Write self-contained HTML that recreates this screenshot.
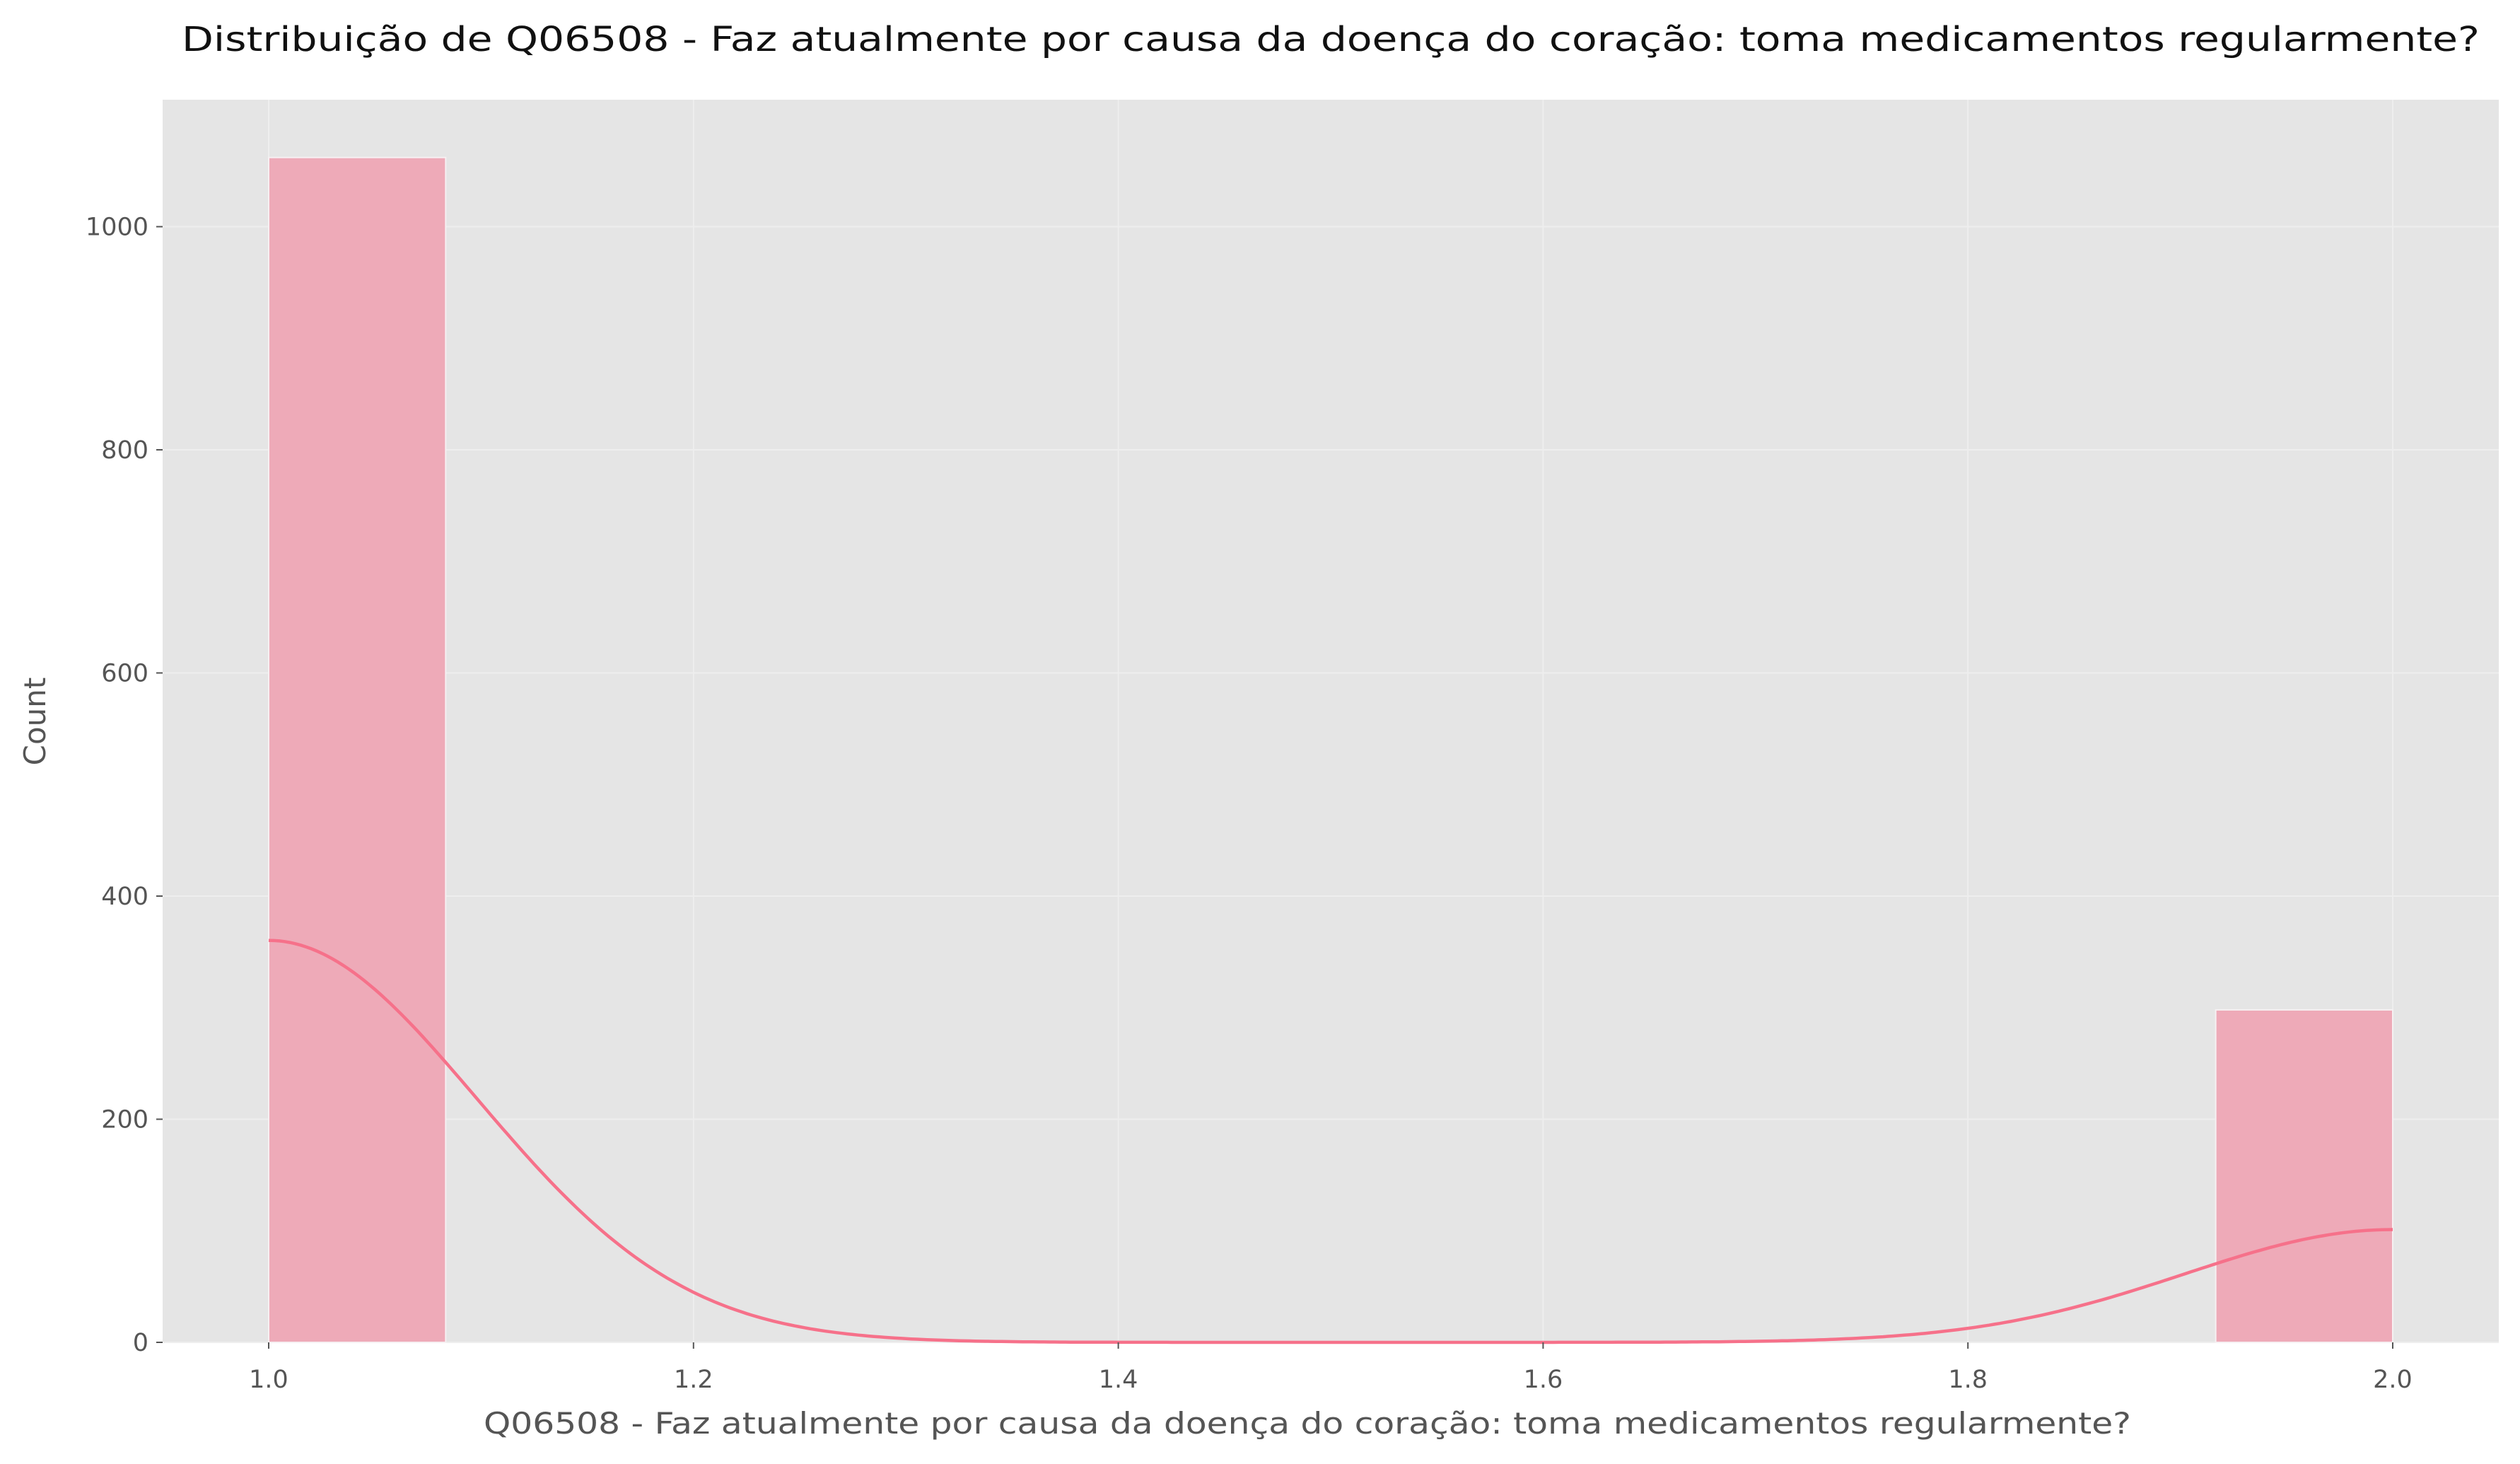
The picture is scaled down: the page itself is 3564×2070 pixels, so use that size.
<!DOCTYPE html>
<html><head><meta charset="utf-8"><style>
html,body{margin:0;padding:0;background:#fff;}
svg text{font-family:"DejaVu Sans","Liberation Sans",sans-serif;}
</style></head><body>
<svg id="chart" width="3564" height="2065" viewBox="0 0 3564 2065" xmlns="http://www.w3.org/2000/svg">
<rect x="0" y="0" width="3564" height="2065" fill="#ffffff"/>
<text x="1882" y="72" font-size="48" text-anchor="middle" fill="#111" textLength="3250" lengthAdjust="spacingAndGlyphs">Distribuição de Q06508 - Faz atualmente por causa da doença do coração: toma medicamentos regularmente?</text>
<rect x="230" y="141" width="3304" height="1757" fill="#e5e5e5"/>
<g id="grid"></g>
<g id="bars"></g>
<path id="kde" fill="none" stroke="#f6718a" stroke-width="4.5"/>
<g id="xticks"></g>
<g id="yticks"></g>
<text x="1849" y="2027" font-size="42" text-anchor="middle" fill="#555" textLength="2330" lengthAdjust="spacingAndGlyphs">Q06508 - Faz atualmente por causa da doença do coração: toma medicamentos regularmente?</text>
<text x="64" y="1020" font-size="42" text-anchor="middle" fill="#555" transform="rotate(-90 64 1020)">Count</text>
</svg>
<script>
const binCounts = [1062, 0, 0, 0, 0, 0, 0, 0, 0, 0, 0, 298];
const binStart = 1.0;
const binEnd = 2.0;
const xTickValues = [1.0, 1.2, 1.4, 1.6, 1.8, 2.0];
const xTickLabels = ["1.0", "1.2", "1.4", "1.6", "1.8", "2.0"];
const yTickValues = [0, 200, 400, 600, 800, 1000];
const yTickLabels = ["0", "200", "400", "600", "800", "1000"];
const kdeBandwidth = 0.098;

const PL = 230, PR = 3534, PT = 141, PB = 1898;
const X0 = 380, X1 = 3384;
function xs(v) { return X0 + (v - 1.0) * (X1 - X0) / 1.0; }
function ys(v) { return PB - v * 1.5775; }
const NS = 'http://www.w3.org/2000/svg';
const grid = document.getElementById('grid');
const xt = document.getElementById('xticks');
const yt = document.getElementById('yticks');
xTickValues.forEach((v, i) => {
  const l = document.createElementNS(NS, 'line');
  
  
  l.setAttribute('x1', xs(v)); l.setAttribute('x2', xs(v));
  l.setAttribute('y1', PT); l.setAttribute('y2', PB);
  l.setAttribute('stroke', '#eeeeee'); l.setAttribute('stroke-width', '2');
  grid.appendChild(l);
  const t = document.createElementNS(NS, 'line');
  
  
  t.setAttribute('x1', xs(v)); t.setAttribute('x2', xs(v));
  t.setAttribute('y1', PB); t.setAttribute('y2', PB + 9);
  t.setAttribute('stroke', '#555'); t.setAttribute('stroke-width', '2');
  xt.appendChild(t);
  const tx = document.createElementNS(NS, 'text');
  
  
  tx.setAttribute('x', xs(v)); tx.setAttribute('y', PB + 64);
  tx.setAttribute('font-size', '35'); tx.setAttribute('text-anchor', 'middle'); tx.setAttribute('fill', '#555');
  tx.textContent = xTickLabels[i];
  xt.appendChild(tx);
});
yTickValues.forEach((v, i) => {
  const l = document.createElementNS(NS, 'line');
  
  
  l.setAttribute('x1', PL); l.setAttribute('x2', PR);
  l.setAttribute('y1', ys(v)); l.setAttribute('y2', ys(v));
  l.setAttribute('stroke', '#eeeeee'); l.setAttribute('stroke-width', '2');
  grid.appendChild(l);
  const t = document.createElementNS(NS, 'line');
  
  
  t.setAttribute('x1', PL - 9); t.setAttribute('x2', PL);
  t.setAttribute('y1', ys(v)); t.setAttribute('y2', ys(v));
  t.setAttribute('stroke', '#555'); t.setAttribute('stroke-width', '2');
  yt.appendChild(t);
  const tx = document.createElementNS(NS, 'text');
  
  
  tx.setAttribute('x', PL - 20); tx.setAttribute('y', ys(v) + 12);
  tx.setAttribute('font-size', '35'); tx.setAttribute('text-anchor', 'end'); tx.setAttribute('fill', '#555');
  tx.textContent = yTickLabels[i];
  yt.appendChild(tx);
});
const bars = document.getElementById('bars');
const bw = (binEnd - binStart) / binCounts.length;
binCounts.forEach((c, i) => {
  if (c <= 0) return;
  const r = document.createElementNS(NS, 'rect');
  
  
  const a = xs(binStart + i * bw), b = xs(binStart + (i + 1) * bw);
  r.setAttribute('x', a); r.setAttribute('width', b - a);
  r.setAttribute('y', ys(c)); r.setAttribute('height', ys(0) - ys(c));
  r.setAttribute('fill', '#eeaab8'); r.setAttribute('stroke', '#f6f0f2'); r.setAttribute('stroke-width', '2');
  bars.appendChild(r);
});
const pts = [];
for (let k = 0; k <= 400; k++) {
  const x = binStart + (binEnd - binStart) * k / 400;
  let d = 0;
  binCounts.forEach((c, i) => {
    if (c <= 0) return;
    const v = i === 0 ? binStart : (i === binCounts.length - 1 ? binEnd : binStart + (i + 0.5) * bw);
    const z = (x - v) / kdeBandwidth;
    d += c * bw * Math.exp(-0.5 * z * z) / (kdeBandwidth * Math.sqrt(2 * Math.PI));
  });
  pts.push((k ? 'L' : 'M') + xs(x).toFixed(1) + ' ' + ys(d).toFixed(1));
}
document.getElementById('kde').setAttribute('d', pts.join(' '));
</script>
</body></html>
